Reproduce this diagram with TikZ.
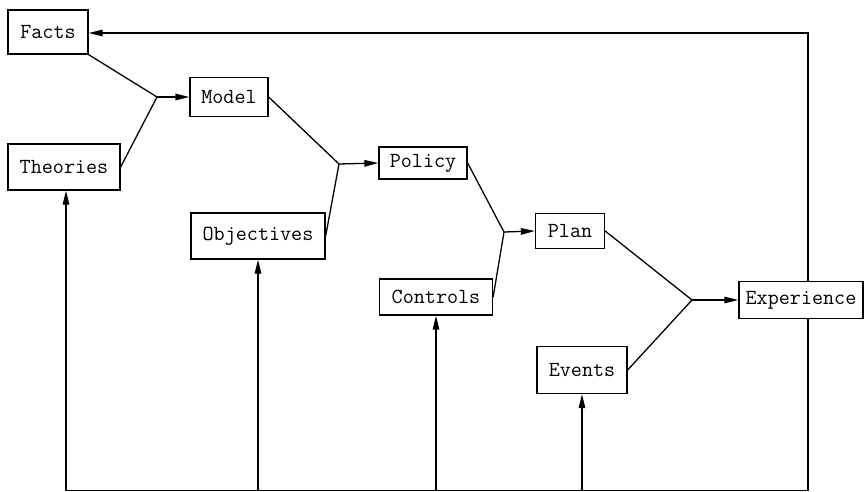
\documentclass[tikz,border=0pt]{standalone}
\usetikzlibrary{arrows.meta}
\begin{document}
\begin{tikzpicture}[x=1pt,y=-1pt,line width=1.3pt,
  box/.style={draw,rectangle,inner sep=0pt,font=\ttfamily\fontsize{21.5}{23}\selectfont},
  arr/.style={-{Triangle[length=14pt,width=6.5pt]}}]
\useasboundingbox (0,0) rectangle (867,492);
\node[box,minimum width=80,minimum height=44] (facts) at (48,32) {Facts};
\node[box,minimum width=112,minimum height=46] (theories) at (64,167) {Theories};
\node[box,minimum width=78,minimum height=39] (model) at (229,97) {Model};
\node[box,minimum width=134,minimum height=46] (objectives) at (258,236) {Objectives};
\node[box,minimum width=88,minimum height=32] (policy) at (423,163) {Policy};
\node[box,minimum width=69,minimum height=35] (plan) at (570,231) {Plan};
\node[box,minimum width=113,minimum height=36] (controls) at (436,297) {Controls};
\node[box,minimum width=124,minimum height=37] (experience) at (801,300) {Experience};
\node[box,minimum width=90,minimum height=47] (events) at (582,370) {Events};
\coordinate (j1) at (157,97);
\coordinate (j2) at (339,164);
\coordinate (j3) at (504,232);
\coordinate (j4) at (692,300);
\coordinate (tr) at (808,33);
\coordinate (br) at (808,490.5);
\coordinate (bl) at (66,490.5);
% forward merges
\draw (facts.south east) -- (j1) -- (theories.east);
\draw[arr] (j1) -- (model.west);
\draw (model.east) -- (j2) -- (objectives.east);
\draw[arr] (j2) -- (policy.west);
\draw (policy.east) -- (j3) -- (controls.east);
\draw[arr] (j3) -- (plan.west);
\draw (plan.east) -- (j4) -- (events.east);
\draw[arr] (j4) -- (experience.west);
% feedback
\draw[arr] (experience.north -| tr) -- (tr) -- (facts.east |- tr);
\draw (experience.south -| br) -- (br) -- (bl);
\draw[arr] (bl) -- (theories.south -| bl);
\draw[arr] (objectives.south |- bl) -- (objectives.south);
\draw[arr] (controls.south |- bl) -- (controls.south);
\draw[arr] (events.south |- bl) -- (events.south);
\end{tikzpicture}
\end{document}
